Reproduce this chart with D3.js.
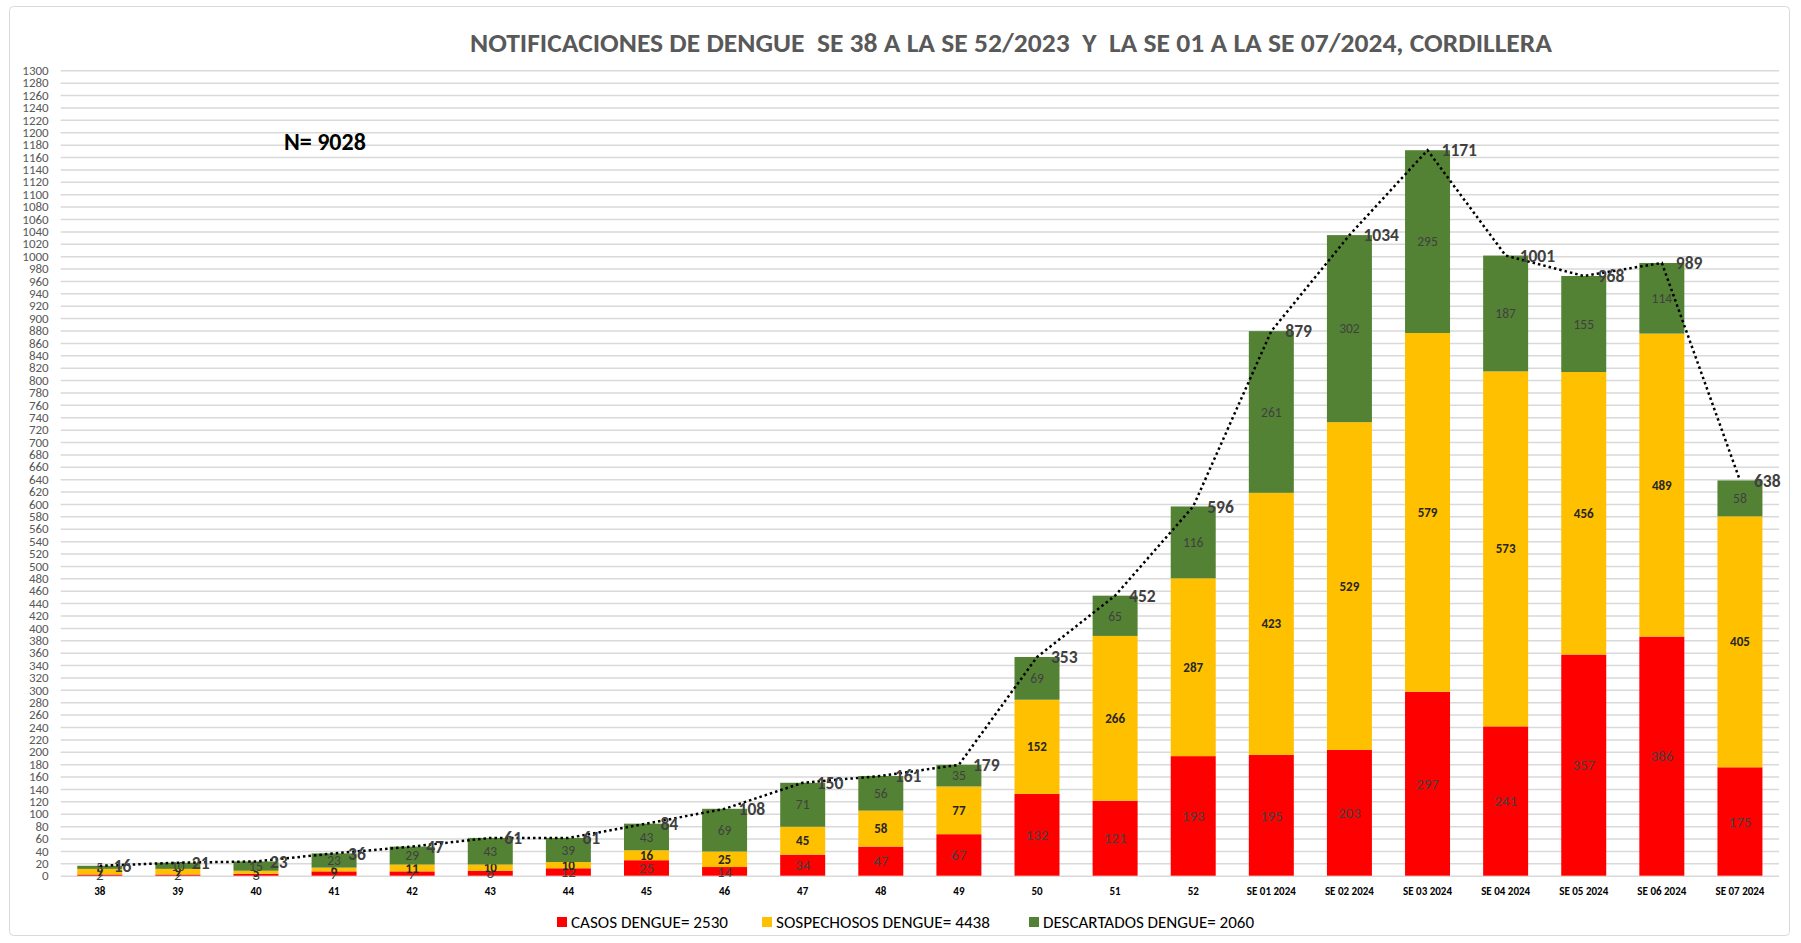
<!DOCTYPE html>
<html lang="es">
<head>
<meta charset="utf-8" />
<title>Notificaciones de dengue - Cordillera</title>
<script src="https://cdn.jsdelivr.net/npm/d3@7"></script>
<style>
  html, body { margin:0; padding:0; background:#fff; }
  svg text { font-family: Carlito, Calibri, "Liberation Sans Narrow", "DejaVu Sans Condensed", sans-serif; }
  .grid line { stroke:#d9d9d9; stroke-width:1.5; }
  .grid path { display:none; }
  .yaxis text { fill:#595959; font-size:13px; }
  .yaxis path, .yaxis line { display:none; }
  .xaxis text { fill:#000; font-size:11px; font-weight:bold; }
  .xaxis path, .xaxis line { display:none; }
</style>
</head>
<body>
<div id="chart"></div>
<script>
// --- data -------------------------------------------------------------
const weeks = ["38","39","40","41","42","43","44","45","46","47","48","49","50","51","52",
               "SE 01 2024","SE 02 2024","SE 03 2024","SE 04 2024","SE 05 2024","SE 06 2024","SE 07 2024"];
const casos        = [2,2,3,7,7,8,12,25,14,34,47,67,132,121,193,195,203,297,241,357,386,175];
const sospechosos  = [9,9,5,6,11,10,10,16,25,45,58,77,152,266,287,423,529,579,573,456,489,405];
const descartados  = [5,10,15,23,29,43,39,43,69,71,56,35,69,65,116,261,302,295,187,155,114,58];
const totals       = [16,21,23,36,47,61,61,84,108,150,161,179,353,452,596,879,1034,1171,1001,968,989,638];
const seriesNames  = ["CASOS DENGUE= 2530","SOSPECHOSOS DENGUE= 4438","DESCARTADOS DENGUE= 2060"];
const seriesColors = ["#ff0000","#ffc000","#548235"];
const yTicks = d3.range(0, 1301, 20);
const titleText = "NOTIFICACIONES DE DENGUE  SE 38 A LA SE 52/2023  Y  LA SE 01 A LA SE 07/2024, CORDILLERA";
const nText = "N= 9028";

// --- layout ------------------------------------------------------------
const W = 1801, H = 943;
const plot = { left:60.7, right:1779, top:70.3, bottom:875.7 };

const svg = d3.select("#chart").append("svg")
  .attr("width", W).attr("height", H);

// outer frame
svg.append("rect")
  .attr("x", 9.5).attr("y", 6.5).attr("width", 1780).attr("height", 929)
  .attr("rx", 4).attr("fill", "#fff").attr("stroke", "#d9d9d9").attr("stroke-width", 1);

const x = d3.scaleBand().domain(weeks).range([plot.left, plot.right]).paddingInner(0.424).paddingOuter(0.212);
const y = d3.scaleLinear().domain([0, 1300]).range([plot.bottom, plot.top]);

// gridlines
svg.append("g").attr("class", "grid")
  .attr("transform", `translate(${plot.left},0)`)
  .call(d3.axisLeft(y).tickValues(yTicks).tickSize(-(plot.right - plot.left)).tickFormat(""));

// y axis labels
svg.append("g").attr("class", "yaxis")
  .attr("transform", `translate(${plot.left},0)`)
  .call(d3.axisLeft(y).tickValues(yTicks).tickSize(0).tickPadding(12).tickFormat(d3.format("d")));

// x axis labels
svg.append("g").attr("class", "xaxis")
  .attr("transform", `translate(0,${plot.bottom})`)
  .call(d3.axisBottom(x).tickSize(0).tickPadding(12));

// stacked bars
const rows = weeks.map((w, i) => ({ week:w, s0:casos[i], s1:sospechosos[i], s2:descartados[i] }));
const stack = d3.stack().keys(["s0","s1","s2"])(rows);

const layers = svg.selectAll("g.layer").data(stack).join("g")
  .attr("class", "layer")
  .attr("fill", (d, i) => seriesColors[i]);

layers.selectAll("rect").data(d => d).join("rect")
  .attr("x", d => x(d.data.week))
  .attr("width", x.bandwidth())
  .attr("y", d => y(d[1]))
  .attr("height", d => y(d[0]) - y(d[1]));

// segment labels
const labelStyle = [
  { size:15, weight:"normal", fill:"#404040" },
  { size:13, weight:"bold",   fill:"#262626" },
  { size:13.5, weight:"normal", fill:"#404040" }
];
layers.each(function (layer, li) {
  d3.select(this).selectAll("text").data(layer).join("text")
    .attr("x", d => x(d.data.week) + x.bandwidth() / 2)
    .attr("y", d => (y(d[0]) + y(d[1])) / 2)
    .attr("dy", "0.35em")
    .attr("text-anchor", "middle")
    .attr("font-size", labelStyle[li].size)
    .attr("font-weight", labelStyle[li].weight)
    .attr("fill", labelStyle[li].fill)
    .text(d => d[1] - d[0]);
});

// dotted total line
const line = d3.line()
  .x((d, i) => x(weeks[i]) + x.bandwidth() / 2)
  .y(d => y(d));
svg.append("path")
  .datum(totals)
  .attr("d", line)
  .attr("fill", "none")
  .attr("stroke", "#000")
  .attr("stroke-width", 2.5)
  .attr("stroke-dasharray", "2.5 3");

// total labels
svg.append("g").selectAll("text").data(totals).join("text")
  .attr("x", (d, i) => x(weeks[i]) + x.bandwidth() / 2 + 14)
  .attr("y", d => y(d))
  .attr("dy", "0.35em")
  .attr("font-size", 17.5)
  .attr("font-weight", "bold")
  .attr("fill", "#404040")
  .text(d => d);

// title
svg.append("text")
  .attr("x", 470).attr("y", 52)
  .attr("textLength", 1082).attr("lengthAdjust", "spacingAndGlyphs")
  .attr("font-size", 26).attr("font-weight", "bold").attr("fill", "#595959")
  .style("white-space", "pre")
  .text(titleText);

// N label
svg.append("text")
  .attr("x", 284).attr("y", 150)
  .attr("font-size", 24).attr("font-weight", "bold").attr("fill", "#000")
  .text(nText);

// legend
const legendX = [557, 762, 1029];
const legendW = [157, 214, 211];
const legend = svg.append("g").selectAll("g").data(seriesNames).join("g")
  .attr("transform", (d, i) => `translate(${legendX[i]},922)`);
legend.append("rect")
  .attr("x", 0).attr("y", -5).attr("width", 10).attr("height", 10)
  .attr("fill", (d, i) => seriesColors[i]);
legend.append("text")
  .attr("x", 14).attr("dy", "0.35em")
  .attr("font-size", 16).attr("fill", "#000")
  .attr("textLength", (d, i) => legendW[i]).attr("lengthAdjust", "spacingAndGlyphs")
  .text(d => d);
</script>
</body>
</html>
